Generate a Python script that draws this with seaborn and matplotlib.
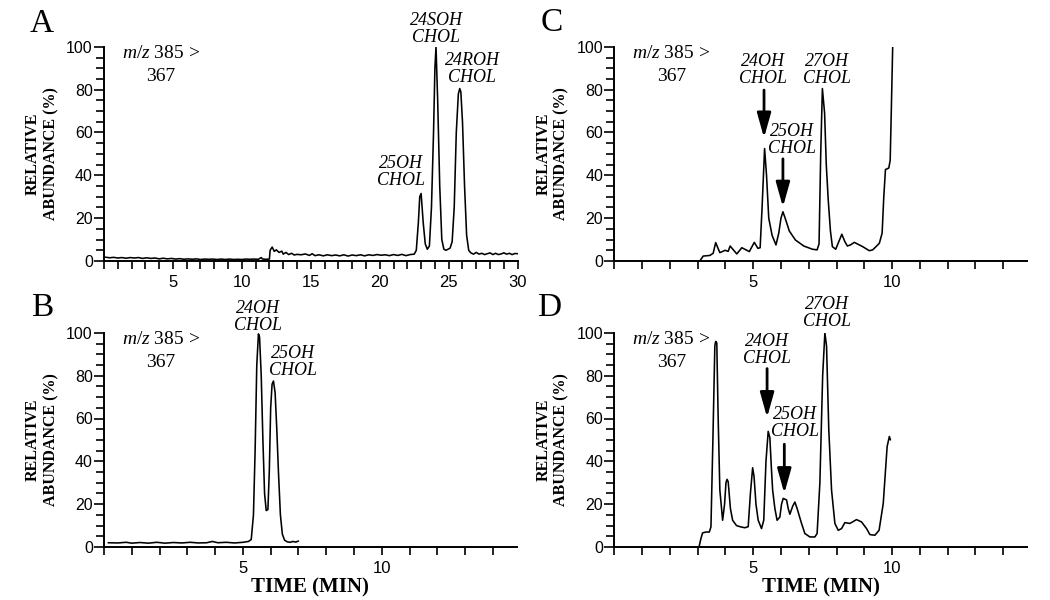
import matplotlib
matplotlib.use('Agg')
import matplotlib.pyplot as plt
from matplotlib.ticker import MultipleLocator, FixedLocator
import seaborn as sns

# ---- chromatogram traces (time in min, relative abundance in %) ----
time_a = [0.1, 0.4, 0.7, 1.0, 1.3, 1.6, 1.9, 2.2, 2.5, 2.8, 3.1, 3.4, 3.7, 4.0, 4.3, 4.6, 4.9,
          5.2, 5.5, 5.8, 6.1, 6.4, 6.7, 7.0, 7.3, 7.6, 7.9, 8.2, 8.5, 8.8, 9.1, 9.4, 9.7, 10.0,
          10.3, 10.6, 10.9, 11.2, 11.4, 11.5, 11.8, 12.0, 12.05, 12.2, 12.35, 12.5, 12.7, 12.9,
          13.0, 13.2, 13.4, 13.6, 13.8, 14.0, 14.3, 14.6, 14.9, 15.1, 15.3, 15.6, 15.9, 16.2,
          16.5, 16.8, 17.1, 17.4, 17.7, 18.0, 18.3, 18.6, 18.9, 19.2, 19.5, 19.8, 20.1, 20.4,
          20.7, 21.0, 21.3, 21.6, 21.9, 22.2, 22.5, 22.65, 22.8, 22.9, 23.0, 23.15, 23.3, 23.45,
          23.6, 23.75, 23.9, 24.0, 24.08, 24.2, 24.35, 24.5, 24.65, 24.8, 24.95, 25.1, 25.25,
          25.4, 25.55, 25.7, 25.8, 25.88, 26.0, 26.15, 26.3, 26.45, 26.6, 26.8, 27.0, 27.2, 27.4,
          27.6, 27.8, 28.0, 28.2, 28.4, 28.6, 28.8, 29.0, 29.2, 29.4, 29.6, 29.8, 30.0]
abund_a = [1.8, 1.5, 1.7, 1.4, 1.6, 1.3, 1.6, 1.4, 1.6, 1.2, 1.5, 1.2, 1.4, 1.0, 1.3, 1.0, 1.2,
           0.9, 1.1, 0.8, 1.0, 0.8, 1.0, 0.7, 0.9, 0.8, 0.9, 0.7, 0.9, 0.7, 0.9, 0.7, 0.8, 0.7,
           0.9, 0.8, 0.9, 0.8, 1.6, 0.9, 0.8, 0.9, 5.0, 6.5, 4.5, 5.2, 4.0, 4.6,
           3.2, 4.0, 3.0, 3.6, 2.8, 3.1, 2.9, 3.3, 2.6, 3.4, 2.5, 2.9, 2.4, 2.9,
           2.5, 2.8, 2.4, 2.9, 2.3, 2.8, 2.5, 2.9, 2.4, 2.9, 2.6, 3.0, 2.7, 2.9,
           2.5, 3.0, 2.6, 3.1, 2.5, 3.0, 3.2, 5.0, 18.0, 30.0, 31.5, 18.0, 8.0, 5.5,
           7.0, 25.0, 60.0, 90.0, 100.0, 75.0, 35.0, 10.0, 5.5, 5.0, 5.5, 6.0, 9.0,
           25.0, 60.0, 78.0, 80.5, 79.0, 65.0, 35.0, 12.0, 5.0, 3.8, 3.2, 4.0, 3.2, 3.6,
           3.0, 3.4, 3.8, 3.0, 3.6, 3.0, 3.3, 3.8, 3.2, 3.6, 3.0, 3.5, 3.4]

time_b = [0.15, 0.5, 0.8, 1.0, 1.3, 1.6, 1.9, 2.2, 2.5, 2.8, 3.1, 3.4, 3.7, 3.9, 4.1, 4.4,
          4.7, 5.0, 5.2, 5.3, 5.38, 5.44, 5.5, 5.56, 5.6, 5.66, 5.72, 5.78, 5.84, 5.9, 5.95,
          6.0, 6.05, 6.1, 6.16, 6.22, 6.28, 6.35, 6.42, 6.5, 6.6, 6.7, 6.8, 6.9, 7.0]
abund_b = [2.0, 1.9, 2.2, 1.8, 2.1, 1.8, 2.2, 1.8, 2.1, 1.9, 2.2, 1.9, 2.0, 2.6, 2.0, 2.2,
           1.9, 2.2, 2.6, 3.5, 15.0, 45.0, 85.0, 99.5, 98.0, 80.0, 50.0, 25.0, 17.0, 17.5, 35.0,
           65.0, 76.0, 77.5, 72.0, 55.0, 35.0, 15.0, 6.0, 3.2, 2.4, 2.2, 2.6, 2.3, 2.8]

time_c = [3.08, 3.2, 3.44, 3.56, 3.65, 3.8, 3.99, 4.1, 4.17, 4.3, 4.41, 4.59, 4.86, 5.04, 5.17,
          5.25, 5.32, 5.41, 5.48, 5.56, 5.68, 5.82, 5.92, 6.0, 6.07, 6.15, 6.3, 6.52, 6.82, 7.13,
          7.3, 7.37, 7.43, 7.49, 7.57, 7.63, 7.7, 7.78, 7.85, 7.97, 8.08, 8.19, 8.3, 8.39, 8.5,
          8.64, 8.94, 9.18, 9.3, 9.42, 9.54, 9.64, 9.7, 9.76, 9.88, 9.93, 9.97, 10.02]
abund_c = [0.0, 2.3, 2.6, 3.6, 8.6, 3.9, 5.0, 4.5, 7.0, 5.0, 3.3, 6.2, 4.4, 8.7, 5.9,
           6.2, 25.0, 52.5, 40.0, 20.0, 12.0, 7.5, 13.0, 20.0, 23.0, 20.0, 14.0, 9.8, 7.0, 5.5,
           5.2, 8.0, 50.0, 80.5, 69.0, 45.0, 28.6, 14.0, 6.7, 5.5, 9.0, 12.5, 9.0, 7.0, 7.5,
           8.7, 6.7, 4.8, 5.2, 6.7, 8.3, 13.0, 30.0, 42.7, 43.4, 47.0, 70.0, 100.0]

time_d = [3.05, 3.12, 3.18, 3.3, 3.42, 3.48, 3.55, 3.62, 3.65, 3.69, 3.74, 3.8, 3.9, 3.97,
          4.02, 4.06, 4.1, 4.18, 4.26, 4.4, 4.55, 4.7, 4.82, 4.9, 4.98, 5.03, 5.1, 5.18, 5.3,
          5.38, 5.46, 5.54, 5.6, 5.65, 5.7, 5.78, 5.86, 5.96, 6.02, 6.08, 6.2, 6.26, 6.32, 6.42,
          6.5, 6.58, 6.74, 6.86, 7.04, 7.22, 7.3, 7.4, 7.5, 7.58, 7.64, 7.72, 7.82, 7.94, 8.06,
          8.18, 8.3, 8.48, 8.72, 8.9, 9.08, 9.2, 9.38, 9.53, 9.68, 9.82, 9.9, 9.94]
abund_d = [0.0, 4.0, 6.6, 7.0, 7.0, 9.4, 50.0, 94.0, 96.0, 95.3, 60.0, 26.6, 12.5, 20.0,
           30.0, 31.6, 30.5, 18.0, 12.5, 10.0, 9.4, 9.0, 9.5, 25.0, 37.0, 33.0, 20.0, 12.5, 8.6,
           12.5, 40.0, 54.0, 51.0, 38.0, 26.6, 18.0, 12.5, 14.0, 20.0, 22.7, 22.0, 18.0, 15.3, 19.0,
           21.0, 18.0, 11.0, 6.3, 4.7, 4.7, 6.3, 30.0, 80.0, 100.0, 93.8, 55.0, 26.6, 11.0, 7.8,
           8.6, 11.4, 11.0, 12.8, 11.7, 8.6, 5.8, 5.5, 7.8, 20.3, 46.9, 51.6, 50.0]

# peak labels: (text, time, abundance)
peaks_a = [("25OH\nCHOL", 21.55, 41.7), ("24SOH\nCHOL", 24.1, 108.2), ("24ROH\nCHOL", 26.7, 89.7)]
peaks_b = [("24OH\nCHOL", 5.55, 107.5), ("25OH\nCHOL", 6.8, 86.4)]
peaks_c = [("24OH\nCHOL", 5.34, 89.4), ("25OH\nCHOL", 6.4, 56.7), ("27OH\nCHOL", 7.67, 89.4)]
peaks_d = [("24OH\nCHOL", 5.48, 92.0), ("25OH\nCHOL", 6.5, 58.0), ("27OH\nCHOL", 7.66, 109.4)]

# arrows: (time, start abundance, tip abundance)
arrows_c = [(5.39, 79.8, 57.5), (6.07, 47.7, 25.2)]
arrows_d = [(5.5, 83.3, 60.5), (6.12, 48.0, 25.0)]

sns.set_theme(style='ticks')
plt.rcParams['font.family'] = ['Liberation Sans', 'DejaVu Sans']
plt.rcParams.update({'axes.edgecolor': 'black', 'axes.linewidth': 1.4,
                     'xtick.color': 'black', 'ytick.color': 'black',
                     'text.color': 'black', 'axes.labelcolor': 'black',
                     'mathtext.fontset': 'custom',
                     'mathtext.it': 'Liberation Serif:italic',
                     'mathtext.rm': 'Liberation Serif'})
serif = ['Liberation Serif', 'DejaVu Serif']

fig = plt.figure(figsize=(10.5, 6), dpi=100)

panels = [
    ("A", [0.099, 0.565, 0.394, 0.357], time_a, abund_a, 30, peaks_a, [], False, (42, 24)),
    ("B", [0.099, 0.0883, 0.393, 0.357], time_b, abund_b, 14.85, peaks_b, [], True, (42, 308)),
    ("C", [0.585, 0.565, 0.393, 0.357], time_c, abund_c, 14.85, peaks_c, arrows_c, False, (552, 23)),
    ("D", [0.585, 0.0883, 0.393, 0.357], time_d, abund_d, 14.85, peaks_d, arrows_d, True, (549, 308)),
]

for letter, rect, t, y, xmax, peaks, arrows, show_xlabel, lpos in panels:
    ax = fig.add_axes(rect)
    ax.set_facecolor('white')
    sns.lineplot(x=t, y=y, ax=ax, color='black', linewidth=1.15,
                 estimator=None, sort=False, legend=False)
    ax.set_xlim(0, xmax)
    ax.set_ylim(0, 100)
    sns.despine(ax=ax)
    ax.grid(False)

    ax.xaxis.set_major_locator(FixedLocator(list(range(5, int(xmax) + 1, 5))))
    ax.xaxis.set_minor_locator(MultipleLocator(1))
    ax.yaxis.set_major_locator(MultipleLocator(20))
    ax.yaxis.set_minor_locator(MultipleLocator(5))
    ax.tick_params(which='both', direction='out', length=5.5, width=1.2)
    ax.tick_params(axis='y', which='major', length=7)
    ax.tick_params(axis='x', which='major', labelsize=12, pad=4.5)
    ax.tick_params(axis='y', which='major', labelsize=11.5, pad=1)

    ax.set_ylabel("RELATIVE\nABUNDANCE (%)", family=serif, fontweight='bold',
                  fontsize=11.5, linespacing=1.2)
    ax.yaxis.set_label_coords(-0.108, 0.5)
    if show_xlabel:
        ax.set_xlabel("TIME (MIN)", family=serif, fontweight='bold', fontsize=15)
        ax.xaxis.label.set_va('center')
        ax.xaxis.set_label_coords(0.5, -0.187)
    else:
        ax.set_xlabel("")

    ax.text(0.138, 0.97, r"$\mathit{m/z}$ 385 >", transform=ax.transAxes, ha='center',
            va='center', family=serif, fontsize=14)
    ax.text(0.138, 0.862, "367", transform=ax.transAxes, ha='center', va='center',
            family=serif, fontsize=14)

    for label, px, py in peaks:
        ax.text(px, py, label, ha='center', va='center', multialignment='center',
                family=serif, style='italic', fontsize=13, linespacing=1.0)

    for ax_t, y0, y1 in arrows:
        ax.annotate("", xy=(ax_t, y1), xytext=(ax_t, y0),
                    arrowprops=dict(arrowstyle='-|>,head_width=0.42,head_length=1.5',
                                    mutation_scale=10, lw=2.0, color='black',
                                    shrinkA=0, shrinkB=0))

    fig.text(lpos[0] / 1050, 1 - lpos[1] / 600, letter, ha='center', va='center',
             family=serif, fontsize=24)

fig.savefig('out.png', dpi=100, facecolor='white')
